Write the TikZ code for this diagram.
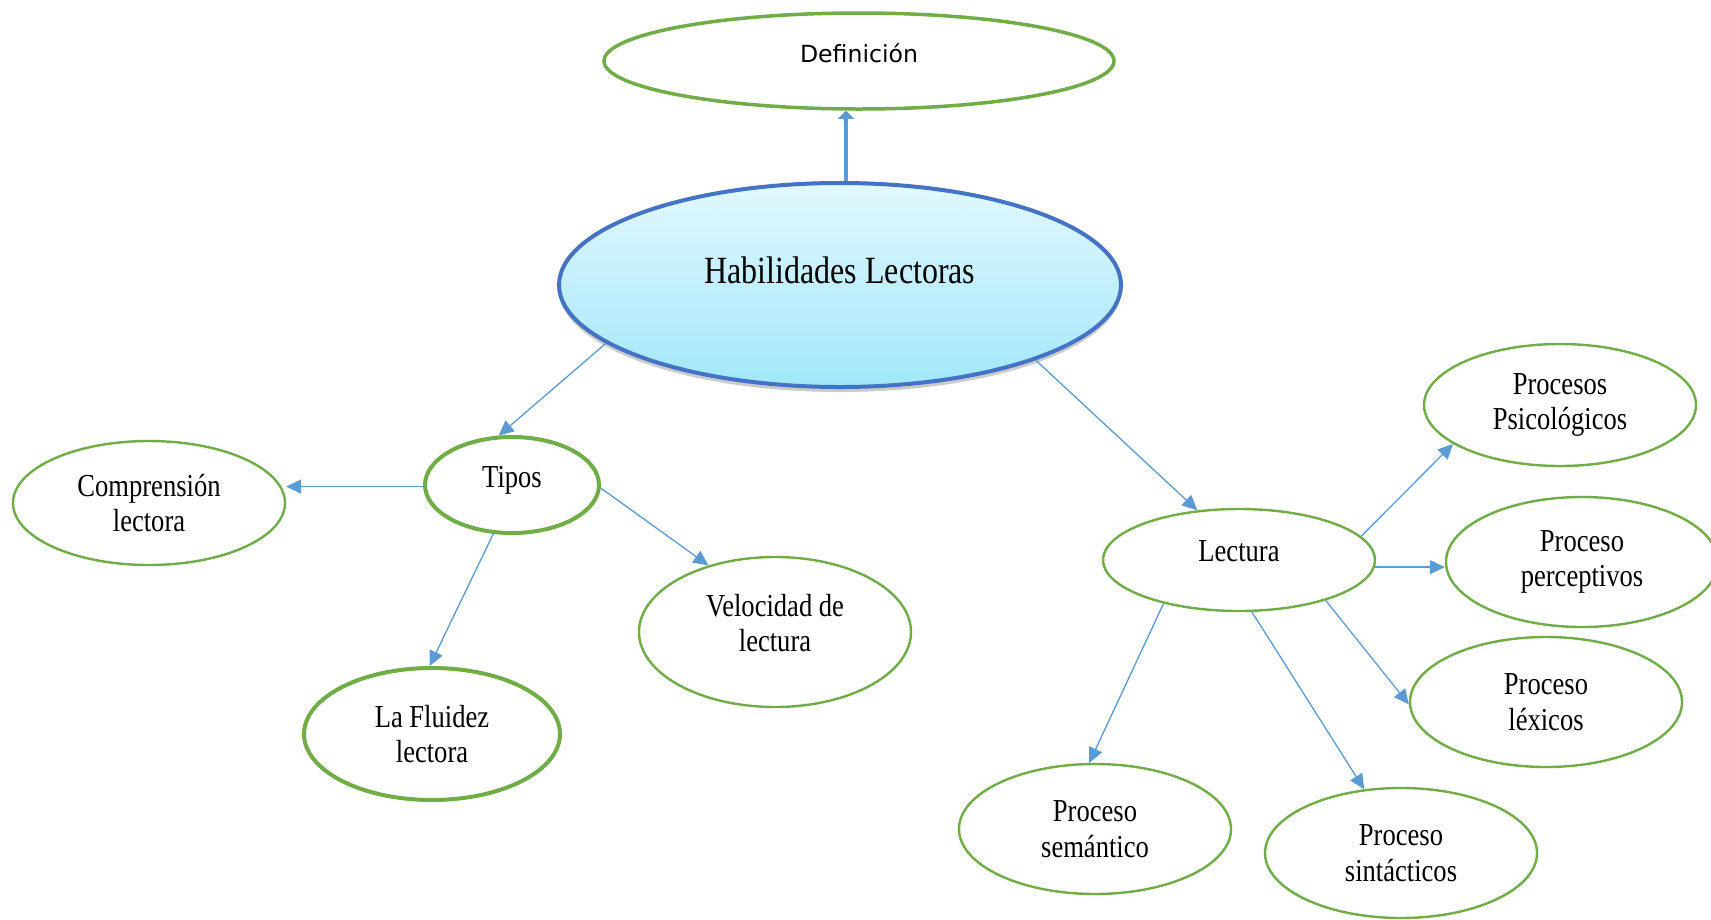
\documentclass[tikz,border=0pt]{standalone}
\usepackage{fontspec}
\setmainfont{Liberation Serif}[FakeStretch=0.83]
\newfontfamily\deffont{DejaVu Sans}
\usepackage{tikz}
\usetikzlibrary{shapes,arrows.meta,positioning,calc,shadows}
\definecolor{leafgreen}{HTML}{70AD47}
\definecolor{linkblue}{HTML}{5B9BD5}
\definecolor{rootblue}{HTML}{4472C4}
\definecolor{roottop}{HTML}{E2F8FE}
\definecolor{rootbot}{HTML}{A2E7FB}
\tikzset{
	leaf/.style = {draw=leafgreen, line width=2.4pt, fill=white, ellipse, inner sep=0pt, minimum width=272pt, minimum height=130pt, align=center, font=\fontsize{32}{35.5}\selectfont},
	boldleaf/.style = {leaf, line width=4pt},
	root/.style = {draw=rootblue, line width=4pt, ellipse, inner sep=0pt, minimum width=562pt, minimum height=204pt, top color=roottop, bottom color=rootbot, drop shadow={shadow xshift=0pt, shadow yshift=-5pt, fill=black!40}, font=\fontsize{38.5}{44}\selectfont},
	link/.style = {draw=linkblue, line width=1.3pt, ->},
	textup/.style = {text depth=#1}
}

\begin{document}
\begin{tikzpicture}[x=1pt,y=-1pt,auto,>={Triangle[length=15pt,width=14pt]}]
\useasboundingbox[fill=white] (0,0) rectangle (1711,919);
\node [root, textup=29pt] (hab) at (840,285) {Habilidades Lectoras};
\node [leaf, line width=3.5pt, minimum width=510pt, minimum height=96pt, font=\deffont\fontsize{23.6}{28}\selectfont, textup=15pt] (defin) at (859,61) {Definición};
\node [boldleaf, minimum width=174pt, minimum height=96pt, textup=16pt] (tipos) at (512,485) {Tipos};
\node [leaf, minimum height=124pt] (compr) at (149,503) {Comprensión\\lectora};
\node [boldleaf, minimum width=256pt, minimum height=132pt] (fluidez) at (432,734) {La Fluidez\\lectora};
\node [leaf, minimum height=150pt, textup=18pt] (veloc) at (775,632) {Velocidad de\\lectura};
\node [leaf, minimum height=102pt, textup=18pt] (lectura) at (1239,560) {Lectura};
\node [leaf, minimum height=122pt] (psico) at (1560,405) {Procesos\\Psicológicos};
\node [leaf] (percep) at (1582,562) {Proceso\\perceptivos};
\node [leaf] (lexico) at (1546,702) {Proceso\\léxicos};
\node [leaf] (semant) at (1095,829) {Proceso\\semántico};
\node [leaf] (sintac) at (1401,853) {Proceso\\sintácticos};

\draw [link, line width=3.5pt, -{Triangle[length=8pt,width=16pt]}] ([xshift=6pt]hab.north) -- ([xshift=-13pt]defin.south);
\draw [link] (hab.194) -- (tipos.105);
\draw [link] (hab.339) -- (lectura.130);
\draw [link] (tipos.181) -- (tipos.181 -| compr.east);
\draw [link] (tipos.249) -- (fluidez.92);
\draw [link] (tipos.358) -- (veloc.135);
\draw [link] (lectura.11) -- (psico.200);
\draw [link] (lectura.357) -- (lectura.357 -| percep.west);
\draw [link] (lectura.335) -- (lexico.181);
\draw [link] (lectura.210) -- (semant.95);
\draw [link] (lectura.284) -- (sintac.120);
\end{tikzpicture}
\end{document}
